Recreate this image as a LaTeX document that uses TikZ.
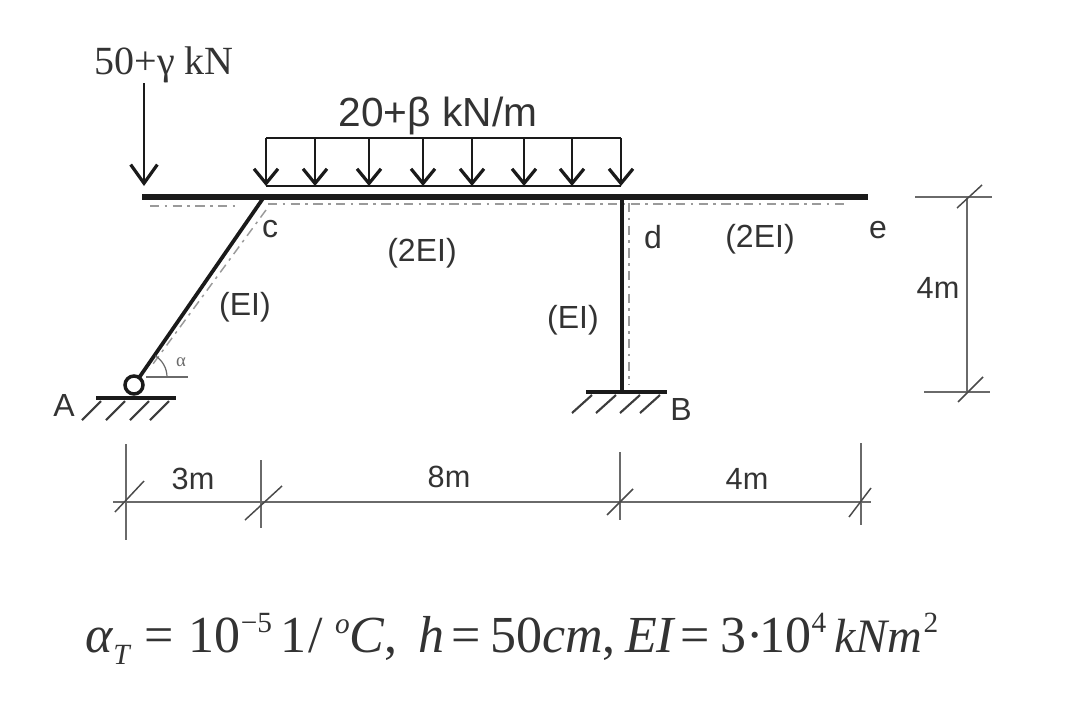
\documentclass[tikz,border=0pt]{standalone}
\usepackage{fontspec}
\setmainfont{Liberation Serif}
\setsansfont{Liberation Sans}
\usetikzlibrary{arrows.meta}
\definecolor{ink}{HTML}{1A1A1A}
\definecolor{txt}{HTML}{333333}
\definecolor{dimc}{HTML}{6A6A6A}
\definecolor{dash}{HTML}{9A9A9A}
\tikzset{
  beam/.style={draw=ink,line width=3.8pt},
  column/.style={draw=ink,line width=2.8pt},
  loadline/.style={draw=ink,line width=1.8pt},
  loadarrow/.style={draw=ink,line width=1.9pt,-{Straight Barb[length=11pt,width=18pt,line width=2.4pt]}},
  forcearrow/.style={draw=ink,line width=1.8pt,-{Straight Barb[length=14pt,width=20pt,line width=2.4pt]}},
  ground/.style={draw=ink,line width=3pt},
  hatch/.style={draw=ink!85,line width=1.6pt},
  dimline/.style={draw=dimc,line width=1.1pt},
  slash/.style={draw=dimc!70!black,line width=1.1pt},
  fibre/.style={draw=dash,line width=1.1pt,dash pattern=on 7pt off 4pt on 2pt off 4pt},
  lab/.style={font=\sffamily\fontsize{24}{26}\selectfont,text=txt,inner sep=0pt},
  slab/.style={font=\sffamily\fontsize{23}{25}\selectfont,text=txt,inner sep=0pt},
}
\begin{document}
\begin{tikzpicture}[x=0.75pt,y=-0.75pt]
\useasboundingbox (0,0) rectangle (1080,725);
% structural points
\coordinate (L) at (142,197);
\coordinate (c) at (264,197);
\coordinate (d) at (622,197);
\coordinate (e) at (868,197);
\coordinate (Bp) at (622,392);
\coordinate (Ap) at (134,385);
% fibres
\coordinate (f1) at (150,206); \coordinate (f2) at (240,206);
\coordinate (f3) at (268,204); \coordinate (f4) at (845,204);
\coordinate (f5) at (266,210); \coordinate (f6) at (150,368);
\coordinate (f7) at (629,203); \coordinate (f8) at (629,385);
\draw[fibre] (f1) -- (f2);
\draw[fibre] (f3) -- (f4);
\draw[fibre] (f5) -- (f6);
\draw[fibre] (f7) -- (f8);
% frame
\draw[beam] (L) -- (e);
\draw[column] (c) -- (Ap);
\draw[column] (d) -- (Bp);
% support A
\coordinate (g1) at (96,398); \coordinate (g2) at (176,398);
\draw[ground] (g1) -- (g2);
\foreach \x in {82,106,130,150} \draw[hatch] (\x,420) -- (\x+19,401);
\node[circle,draw=ink,line width=2.6pt,fill=white,minimum size=13.5pt,inner sep=0pt] (pin) at (Ap) {};
% support B
\coordinate (g3) at (586,392); \coordinate (g4) at (667,392);
\draw[ground] (g3) -- (g4);
\foreach \x in {572,596,620,640} \draw[hatch] (\x,413) -- (\x+20,395);
% angle
\coordinate (a1) at (146,377); \coordinate (a2) at (188,377);
\draw[draw=dimc,line width=.9pt] (a1) -- (a2);
\draw[draw=dimc,line width=.9pt] (167,377) arc[start angle=0,end angle=-58,radius=25];
\node[font=\fontsize{14}{15}\selectfont,text=dimc,inner sep=0pt] (alab) at (181,362) {α};
% point load
\coordinate (P1) at (144,83); \coordinate (P2) at (144,186);
\draw[forcearrow] (P1) -- (P2);
\node[font=\fontsize{30}{32}\selectfont,text=txt,inner sep=0pt] (Plab) at (164,65) {50+γ kN};
% distributed load
\coordinate (q1) at (266,138); \coordinate (q2) at (621,138);
\coordinate (q3) at (266,186); \coordinate (q4) at (621,186);
\draw[loadline] (q1) -- (q2);
\draw[loadline] (q3) -- (q4);
\foreach \x in {266,315,369,423,472,524,572,621} \draw[loadarrow] (\x,138) -- (\x,186);
\node[font=\sffamily\fontsize{30.5}{33}\selectfont,text=txt,inner sep=0pt] (qlab) at (438,116) {20+β kN/m};
% labels
\node[lab] (lc) at (270,229) {c};
\node[lab] (l2a) at (422,253) {(2EI)};
\node[lab] (l1a) at (245,307) {(EI)};
\node[lab] (ld) at (653,237) {d};
\node[lab] (l2b) at (760,239) {(2EI)};
\node[lab] (le) at (878,230) {e};
\node[lab] (l1b) at (573,320) {(EI)};
\node[lab] (lA) at (64,405) {A};
\node[lab] (lB) at (681,409) {B};
\node[slab] (d4v) at (938,288) {4m};
\node[slab] (d3) at (193,479) {3m};
\node[slab] (d8) at (449,477) {8m};
\node[slab] (d4) at (747,479) {4m};
% horizontal dimension
\coordinate (h1) at (113,502); \coordinate (h2) at (871,502);
\draw[dimline] (h1) -- (h2);
\draw[dimline] (126,444) -- (126,540);
\draw[dimline] (261,460) -- (261,528);
\draw[dimline] (620,452) -- (620,520);
\draw[dimline] (861,443) -- (861,525);
\draw[slash] (115,512) -- (144,481);
\draw[slash] (245,520) -- (282,486);
\draw[slash] (607,515) -- (633,489);
\draw[slash] (849,517) -- (871,488);
% vertical dimension
\coordinate (v1) at (967,197); \coordinate (v2) at (967,392);
\draw[dimline] (v1) -- (v2);
\draw[dimline] (915,197) -- (992,197);
\draw[dimline] (924,392) -- (990,392);
\draw[slash] (957,208) -- (982,185);
\draw[slash] (958,402) -- (983,377);
% formula
\node[anchor=base west,font=\fontsize{39}{42}\selectfont,text=txt,inner sep=0pt] (form) at (85,652)
 {\textit{α}\raisebox{-9pt}{\fontsize{22}{24}\selectfont\textit{T}}\kern10pt=\kern11pt 10\raisebox{15pt}{\fontsize{22}{24}\selectfont −5}\kern6pt 1\kern2pt/\kern9pt\raisebox{14pt}{\fontsize{22}{24}\selectfont\textit{o}}\textit{C},\kern16pt\textit{h}\kern5pt=\kern7pt50\textit{cm},\kern7pt\textit{EI}\kern3pt=\kern8pt3\kern0pt·\kern-3pt10\raisebox{15pt}{\fontsize{22}{24}\selectfont 4}\kern6pt{\fontsize{36}{39}\selectfont\textit{kNm}}\kern1pt\raisebox{15pt}{\fontsize{22}{24}\selectfont 2}};
\end{tikzpicture}
\end{document}
